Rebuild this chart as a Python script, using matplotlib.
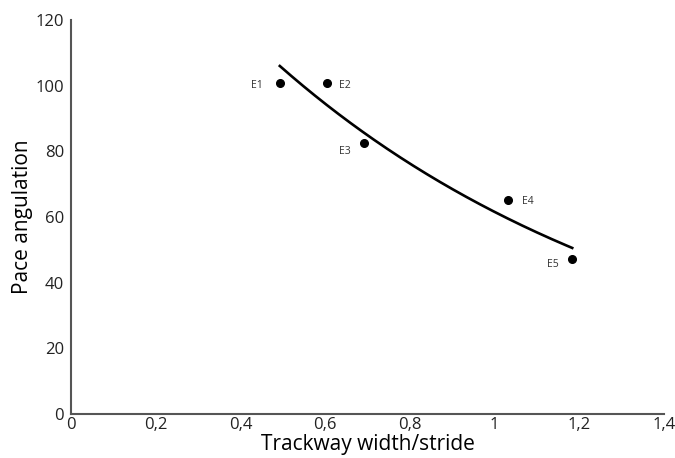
import matplotlib
matplotlib.use("Agg")
import matplotlib.pyplot as plt
import numpy as np
from matplotlib.ticker import FuncFormatter

plt.rcParams["font.family"] = ["Open Sans", "DejaVu Sans"]

# Trackway samples: width/stride ratio vs pace angulation
labels = ["E1", "E2", "E3", "E4", "E5"]
width_stride = [0.493, 0.604, 0.692, 1.032, 1.183]
pace_angle = [100.8, 100.8, 82.5, 65.2, 47.1]

x_ticks = [0, 0.2, 0.4, 0.6, 0.8, 1.0, 1.2, 1.4]
y_ticks = [0, 20, 40, 60, 80, 100, 120]

# label placement (offset in points, alignment)
label_pos = {
    "E1": ((-12, -2), "right"),
    "E2": ((9, -2), "left"),
    "E3": ((-10, -6), "right"),
    "E4": ((10, -1), "left"),
    "E5": ((-10, -4), "right"),
}

fig = plt.figure(figsize=(6.75, 4.58), dpi=100)
ax = fig.add_axes([0.105, 0.096, 0.879, 0.86])

# exponential trendline fitted to the points (y = a * exp(b x))
b, ln_a = np.polyfit(width_stride, np.log(pace_angle), 1)
xs = np.linspace(min(width_stride), max(width_stride), 200)
ax.plot(xs, np.exp(ln_a) * np.exp(b * xs), color="black", linewidth=1.9)

ax.plot(width_stride, pace_angle, "o", color="black", markersize=5.5)

for lab, x, y in zip(labels, width_stride, pace_angle):
    off, ha = label_pos[lab]
    ax.annotate(lab, (x, y), xytext=off, textcoords="offset points",
                ha=ha, va="center", fontsize=7.5, color="#333333")

ax.set_xlim(0, 1.4)
ax.set_ylim(0, 120)
ax.set_xticks(x_ticks)
ax.set_yticks(y_ticks)
fmt = FuncFormatter(lambda v, p: f"{v:g}".replace(".", ","))
ax.xaxis.set_major_formatter(fmt)
ax.tick_params(length=0, labelsize=12, colors="#222222")
ax.tick_params(axis="x", pad=2)
ax.tick_params(axis="y", pad=5)

ax.set_xlabel("Trackway width/stride", fontsize=15, labelpad=1)
ax.set_ylabel("Pace angulation", fontsize=15, labelpad=2)

ax.spines[["top", "right"]].set_visible(False)
for s in ["left", "bottom"]:
    ax.spines[s].set_color("#555555")
    ax.spines[s].set_linewidth(1.5)

plt.savefig("out.png", dpi=100)
